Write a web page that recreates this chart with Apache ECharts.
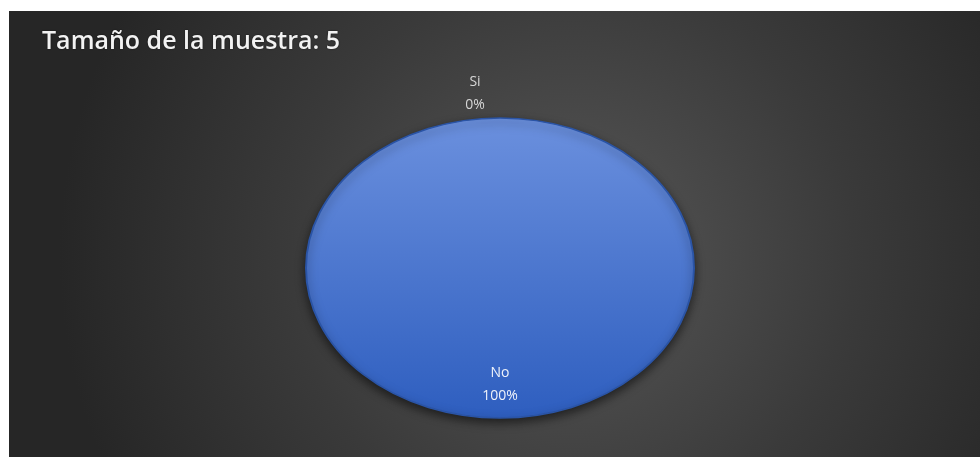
<!DOCTYPE html>
<html>
<head>
<meta charset="utf-8">
<script src="https://cdn.jsdelivr.net/npm/echarts@6/dist/echarts.min.js"></script>
<style>
  html, body { margin: 0; padding: 0; background: #ffffff; }
  #chart { position: absolute; left: 9px; top: 11px; width: 971px; height: 446px; }
</style>
</head>
<body>
<div id="chart"></div>
<script>
// Survey answers and counts
const categories = ['Si', 'No'];
const counts = [0, 5];
const titleText = 'Tamaño de la muestra: ';

const total = counts.reduce((a, b) => a + b, 0);
const chart = echarts.init(document.getElementById('chart'));

// Pie drawn as an ellipse: sector geometry from the values, stretched horizontally
const RY = 150;
const RX = 194;

function renderSlice(params, api) {
  const i = params.dataIndex;
  const value = api.value(1);
  let before = 0;
  for (let k = 0; k < i; k++) before += counts[k];
  const start = -Math.PI / 2 + 2 * Math.PI * before / total;
  const end = start + 2 * Math.PI * value / total;
  const mid = (start + end) / 2;
  const cx = 491;
  const cy = 257;
  const pct = Math.round(value / total * 100) + '%';
  const children = [];
  if (value > 0) {
    children.push({
      type: 'sector',
      x: cx, y: cy,
      scaleX: RX / RY,
      shape: { cx: 0, cy: 0, r0: 0, r: RY, startAngle: start, endAngle: end, clockwise: true },
      style: {
        fill: {
          type: 'linear', x: 0, y: 0, x2: 0, y2: 1,
          colorStops: [
            { offset: 0, color: '#6b90de' },
            { offset: 1, color: '#2e5ebf' }
          ]
        },
        stroke: '#2a54a6',
        lineWidth: 1.5,
        shadowBlur: 10,
        shadowOffsetY: 4,
        shadowColor: 'rgba(0,0,0,0.55)'
      }
    });
  }
  // label inside the slice when it has area, outside otherwise
  const inside = value > 0;
  const k = inside ? 0.78 : 1.16;
  const lx = cx + RX * k * Math.cos(mid) + (inside ? 0 : -25);
  const ly = cy + RY * k * Math.sin(mid);
  children.push({
    type: 'text',
    x: lx, y: ly,
    style: {
      text: categories[i] + '\n' + pct,
      fill: inside ? '#eef2fa' : '#d6d6d6',
      font: '14px "Open Sans", sans-serif',
      lineHeight: 23,
      align: 'center',
      verticalAlign: 'middle'
    }
  });
  return { type: 'group', children: children };
}

chart.setOption({
  backgroundColor: {
    type: 'radial', x: 0.58, y: 0.55, r: 1.15,
    colorStops: [
      { offset: 0, color: '#575757' },
      { offset: 0.55, color: '#3a3a3a' },
      { offset: 1, color: '#262626' }
    ]
  },
  animation: false,
  title: {
    text: titleText + total,
    left: 28,
    top: 13,
    textStyle: {
      color: '#f2f2f2',
      fontFamily: '"Open Sans", sans-serif',
      fontSize: 25,
      fontWeight: 600,
      textShadowColor: 'rgba(0,0,0,0.6)',
      textShadowBlur: 2
    }
  },
  series: [{
    type: 'custom',
    coordinateSystem: 'none',
    renderItem: renderSlice,
    data: counts.map((v, i) => [i, v])
  }]
});
</script>
</body>
</html>
